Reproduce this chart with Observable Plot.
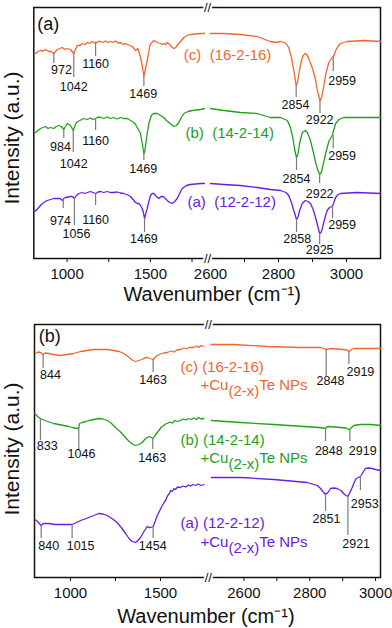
<!DOCTYPE html>
<html><head><meta charset="utf-8">
<script src="https://cdn.jsdelivr.net/npm/d3@7"></script>
<script src="https://cdn.jsdelivr.net/npm/@observablehq/plot@0.6"></script>
<style>
body{margin:0;background:#fff;}
#chart{width:392px;}
#chart svg{display:block;}
</style></head><body><div id="chart"></div>
<script>
const FONT = "Liberation Sans, Arial, Helvetica, sans-serif";
const COLORS = {c: "#f4652c", b: "#22a01e", a: "#6420e6"};

// ---------- Panel (a): neat surfactants ----------
const aDomain = [800, 1825, 2600, 3100];
const aTicks = [1000, 1250, 1500, 1750, 2600, 2700, 2800, 2900, 3000];
const aTickLabels = [1000, 1500, 2600, 2800, 3000];

const a_c = [[810,205],[825,207],[840,208],[855,207.5],[870,209],[890,207],[905,207],[920,205],[941,209],[955,210],[971,211],[986,209],[1001,210],[1020,209],[1030,207],[1040,205],[1050,209],[1061,213],[1076,213],[1091,215],[1106,214],[1121,216],[1136,215],[1151,217],[1171,215],[1186,217],[1201,217],[1216,216],[1231,217.5],[1246,216],[1261,217],[1276,216],[1291,217.5],[1306,215.5],[1321,216],[1336,214],[1350,215],[1361,214],[1376,213],[1391,212],[1401,210],[1411,208],[1418,209],[1425,210],[1433,206],[1441,201],[1451,193],[1461,182],[1471,190],[1481,198],[1490,206],[1497,213],[1509,216],[1521,218],[1541,216],[1561,215],[1571,214],[1581,215],[1591,214],[1601,216],[1611,215],[1621,213],[1631,211],[1641,210],[1651,211],[1661,213],[1671,215],[1686,218],[1701,221],[1721,223],[1741,224],[1771,224.5],[1801,225],[1825,225],
  [2600,225],[2639,225],[2688,224],[2737,222],[2756,219.5],[2776,217],[2791,216],[2806,217],[2821,215.5],[2830,211],[2838,201],[2845,188],[2852,173],[2856,176],[2860,185],[2866,196],[2872,203],[2879,205],[2885,203],[2892,197],[2900,190],[2908,180],[2915,167],[2922,158],[2927,161],[2933,172],[2940,186],[2948,196],[2958,201],[2963,203],[2968,208],[2975,212],[2982,215],[3002,217],[3051,218],[3100,217]];

const a_b = [[810,126],[825,128],[840,130],[855,131],[870,132],[885,130],[900,131],[920,130],[935,132],[950,133],[965,132],[980,129],[990,132],[1001,135],[1020,133],[1030,130],[1037,128],[1045,132],[1056,136],[1076,138],[1100,140],[1120,139],[1140,140.5],[1155,139],[1171,140],[1186,141.5],[1201,141],[1220,140],[1240,141.5],[1260,140],[1280,141],[1300,139.5],[1320,141],[1340,140],[1361,140],[1381,138],[1401,136],[1411,134],[1421,131],[1431,128],[1441,125],[1453,113],[1461,105],[1467,108],[1475,118],[1481,125],[1491,135],[1505,143],[1520,145],[1541,145],[1561,143],[1581,141],[1596,138],[1611,136],[1626,134],[1641,132],[1656,133],[1671,136],[1686,141],[1701,145],[1726,147],[1751,148],[1801,149],[1825,150],
  [2600,150],[2639,148],[2688,146],[2737,145],[2756,143],[2776,141],[2806,141],[2826,138],[2835,131],[2842,121],[2848,108],[2853,101],[2857,104],[2862,115],[2870,126],[2879,128],[2885,126],[2893,119],[2902,107],[2910,95],[2916,88],[2921,84],[2926,86],[2932,95],[2940,107],[2948,117],[2958,123],[2963,129],[2968,135],[2978,139],[2992,141],[3051,141],[3100,141]];

const a_a = [[806,47],[818,49],[830,51],[845,54],[860,56],[880,58],[900,59],[920,60],[941,60],[958,60],[972,58],[980,60],[990,61],[1005,61.5],[1020,62],[1032,62],[1044,60],[1056,63],[1070,65],[1090,66],[1105,65],[1121,66],[1140,67],[1155,66],[1171,65],[1186,66.5],[1201,67],[1220,66],[1240,67],[1260,66],[1280,66],[1300,66.5],[1320,65.5],[1340,65],[1355,64],[1370,63],[1381,62],[1391,60],[1401,58],[1411,56],[1421,55],[1431,55],[1441,53],[1451,50],[1458,46],[1465,40],[1471,44],[1481,50],[1491,57],[1501,63],[1511,65],[1521,65],[1536,62],[1551,60],[1564,62],[1577,62],[1590,60],[1601,58],[1616,56],[1631,55],[1646,57],[1661,60],[1676,65],[1691,70],[1716,73],[1741,74],[1801,75],[1825,75],
  [2600,75],[2639,74],[2688,73],[2737,71],[2776,69],[2806,68],[2822,66],[2830,63],[2838,56],[2845,48],[2853,39],[2858,42],[2862,48],[2870,55],[2879,58],[2887,57],[2894,55],[2902,49],[2909,41],[2915,33],[2921,25],[2925,26],[2929,30],[2936,40],[2943,48],[2950,51],[2958,52],[2963,56],[2968,61],[2975,64],[2982,65],[3031,66],[3100,65]];

const aPeaks = [
  {s:"c", w:920, y1:205, y2:195, t:"972", tw:966, tv:189},
  {s:"c", w:1040, y1:205, y2:181, t:"1042", tw:1040, tv:172},
  {s:"c", w:1171, y1:216, y2:202, t:"1160", tw:1171, tv:195},
  {s:"c", w:1461, y1:182, y2:172, t:"1469", tw:1457, tv:165},
  {s:"c", w:2852, y1:173, y2:161, t:"2854", tw:2850, tv:154},
  {s:"c", w:2922, y1:158, y2:145, t:"2922", tw:2921, tv:139},
  {s:"c", w:2961, y1:201, y2:187, t:"2959", tw:2987, tv:178},
  {s:"b", w:980, y1:129, y2:120, t:"984", tw:960, tv:112},
  {s:"b", w:1037, y1:128, y2:106, t:"1042", tw:1040, tv:95},
  {s:"b", w:1171, y1:140, y2:128, t:"1160", tw:1171, tv:118},
  {s:"b", w:1461, y1:105, y2:98, t:"1469", tw:1457, tv:90},
  {s:"b", w:2853, y1:101, y2:88, t:"2854", tw:2853, tv:80},
  {s:"b", w:2921, y1:84, y2:75, t:"2922", tw:2921, tv:65},
  {s:"b", w:2961, y1:123, y2:110, t:"2959", tw:2987, tv:103},
  {s:"a", w:977, y1:59, y2:50, t:"974", tw:960, tv:38},
  {s:"a", w:1044, y1:60, y2:33, t:"1056", tw:1056, tv:25},
  {s:"a", w:1171, y1:65, y2:53, t:"1160", tw:1171, tv:39},
  {s:"a", w:1465, y1:40, y2:26, t:"1469", tw:1461, tv:20},
  {s:"a", w:2853, y1:39, y2:26, t:"2858", tw:2855, tv:20},
  {s:"a", w:2921, y1:25, y2:14, t:"2925", tw:2921, tv:9},
  {s:"a", w:2959, y1:52, y2:40, t:"2959", tw:2987, tv:34}
];
const aLabels = [
  {s:"c", w:1701, v:203, t:"(c)\u00a0\u00a0(16-2-16)"},
  {s:"b", w:1711, v:125, t:"(b)\u00a0\u00a0(14-2-14)"},
  {s:"a", w:1723, v:56, t:"(a)\u00a0\u00a0(12-2-12)"}
];

// ---------- Panel (b): with Cu(2-x)Te NPs ----------
const bDomain = [800, 1750, 2500, 3015];
const bTicks = [1000, 1250, 1500, 2600, 2700, 2800, 2900, 3000];
const bTickLabels = [1000, 1500, 2600, 2800, 3000];

const b_c = [[806,224],[820,225.5],[833,225],[840,224],[848,223],[860,224.5],[879,224],[905,223],[944,222],[980,223],[1018,224],[1055,226],[1093,227],[1130,228],[1167,228],[1205,228],[1241,227],[1270,226],[1296,224],[1315,221.5],[1333,219],[1347,217],[1361,216],[1380,217],[1398,218],[1412,219.5],[1426,220],[1442,219],[1451,218.5],[1459,218],[1470,220],[1482,222],[1500,223.5],[1518,224.5],[1537,225],[1560,226.5],[1575,225.5],[1590,227.5],[1611,228],[1630,229.5],[1645,228.5],[1660,230],[1685,230],[1700,231.5],[1712,230],[1725,232],[1741,231],
  [2500,233],[2569,233],[2671,231],[2772,230],[2833,230],[2843,229],[2850,228],[2856,228.5],[2863,229],[2903,228],[2912,227.5],[2919,226],[2926,228],[2934,229],[2975,229],[3015,229]];

const b_b = [[802,164],[817,161],[833,159],[850,157.5],[871,156],[890,155],[907,154],[935,153],[963,152],[990,151],[1009,150],[1025,149.5],[1041,149],[1046,150],[1050,154],[1065,155],[1085,156],[1102,157],[1130,158],[1157,159],[1180,158.5],[1204,157],[1228,154],[1250,150],[1275,146],[1296,142],[1315,138],[1333,135],[1347,133],[1361,132],[1380,133],[1398,135],[1412,138],[1426,140],[1439,141],[1450,140],[1459,139],[1470,142],[1482,145],[1495,148],[1505,150.5],[1518,152],[1528,153.5],[1537,154],[1550,155.5],[1565,154.5],[1580,157],[1595,156],[1611,157],[1625,158.5],[1640,157.5],[1655,159],[1670,158],[1685,159.5],[1700,158],[1712,160],[1725,158.5],[1741,159],
  [2501,157],[2590,155],[2691,153],[2782,151],[2828,150],[2840,149.5],[2848,149],[2852,150.5],[2858,151],[2893,150],[2910,149.5],[2919,148],[2922,148.5],[2934,152],[2954,153],[2985,153],[3015,152]];

const b_a = [[802,58],[810,57],[817,56],[826,54],[837,52],[846,53.5],[856,54],[879,54],[917,53],[972,53],[1009,53],[1033,55],[1056,57],[1080,58.5],[1102,60],[1130,62],[1157,64],[1180,63.5],[1204,62],[1230,59],[1259,55],[1282,50],[1306,44],[1325,39],[1343,36],[1361,35],[1375,37],[1389,40],[1408,46],[1426,51],[1436,50],[1444,50],[1452,50.5],[1459,51],[1470,56],[1482,62],[1496,67],[1510,72],[1520,75],[1528,77],[1540,82],[1550,84],[1556,87],[1565,86],[1575,89],[1583,88],[1595,90.5],[1611,90],[1625,91.5],[1640,90.5],[1655,92.5],[1667,91.5],[1680,93],[1695,92],[1710,93.5],[1725,92],[1741,93],
  [2501,100],[2590,100],[2691,98],[2792,95],[2823,92],[2833,89],[2840,86],[2848,83],[2855,85],[2863,89],[2873,89.5],[2883,89],[2895,87],[2903,84],[2910,82],[2916,81],[2922,85],[2929,90],[2935,95],[2941,99],[2948,100],[2954,101],[2960,104],[2969,109],[2980,109.5],[2989,109],[3000,108],[3015,107]];

const bPeaks = [
  {s:"c", w:848, y1:223, y2:209, t:"844", tw:889, tv:203},
  {s:"c", w:1459, y1:218, y2:205, t:"1463", tw:1459, tv:198},
  {s:"c", w:2850, y1:228, y2:201, t:"2848", tw:2863, tv:197},
  {s:"c", w:2919, y1:226, y2:213, t:"2919", tw:2954, tv:206},
  {s:"b", w:833, y1:159, y2:137, t:"833", tw:871, tv:132},
  {s:"b", w:1046, y1:150, y2:127, t:"1046", tw:1061, tv:124},
  {s:"b", w:1457, y1:139, y2:128, t:"1463", tw:1454, tv:120},
  {s:"b", w:2848, y1:149, y2:136, t:"2848", tw:2858, tv:127},
  {s:"b", w:2922, y1:148, y2:136, t:"2919", tw:2961, tv:127},
  {s:"a", w:837, y1:52, y2:39, t:"840", tw:879, tv:32},
  {s:"a", w:1009, y1:53, y2:39, t:"1015", tw:1056, tv:32},
  {s:"a", w:1459, y1:51, y2:39, t:"1454", tw:1457, tv:32},
  {s:"a", w:2848, y1:83, y2:66, t:"2851", tw:2851, tv:59},
  {s:"a", w:2916, y1:81, y2:42, t:"2921", tw:2941, tv:34},
  {s:"a", w:2954, y1:101, y2:87, t:"2953", tw:2967, tv:74}
];
const bLabels = [
  {s:"c", w:1611, v:210, t:"(c) (16-2-16)"},
  {s:"c", w:1722, v:192, t:"+Cu(2-x)Te NPs"},
  {s:"b", w:1611, v:137, t:"(b) (14-2-14)"},
  {s:"b", w:1722, v:119, t:"+Cu(2-x)Te NPs"},
  {s:"a", w:1611, v:54, t:"(a) (12-2-12)"},
  {s:"a", w:1722, v:35, t:"+Cu(2-x)Te NPs"}
];

const X_LABEL = "Wavenumber (cm\u207B\u00B9)";
const Y_LABEL = "Intensity (a.u.)";

function panel(o) {
  const gapMid = (o.domain[1] + o.domain[2]) / 2;
  const seg = d => d[0] < gapMid ? "L" : "R";
  const labelSet = new Set(o.tickLabels);
  const series = [["c", o.c], ["b", o.b], ["a", o.a]];
  const marks = [
    Plot.frame({stroke: "#111", strokeWidth: 1.5}),
    ...series.map(([k, data]) => Plot.line(data, {x: d => d[0], y: d => d[1], z: seg, stroke: COLORS[k], strokeWidth: 1.3})),
    Plot.ruleX(o.peaks, {x: "w", y1: "y1", y2: "y2", stroke: "#7a7a7a", strokeWidth: 1.2}),
    Plot.text(o.peaks, {x: "tw", y: "tv", text: "t", fontSize: 12.5, fill: "#111", lineAnchor: "middle"}),
    ...series.map(([k]) => Plot.text(o.labels.filter(d => d.s === k), {x: "w", y: "v", text: "t", fill: COLORS[k], textAnchor: "start", lineAnchor: "middle", fontSize: 15})),
    Plot.axisX({ticks: o.ticks, tickFormat: d => labelSet.has(d) ? String(d) : "", tickSize: 4, tickPadding: 6, label: null, stroke: "#111", fill: "#111"}),
    Plot.text([gapMid], {x: d => d, text: () => "//", frameAnchor: "top", textAnchor: "middle", lineAnchor: "middle", fontSize: 13, fill: "#111", stroke: "white", strokeWidth: 4}),
    Plot.text([gapMid], {x: d => d, text: () => "//", frameAnchor: "bottom", textAnchor: "middle", lineAnchor: "middle", fontSize: 13, fill: "#111", stroke: "white", strokeWidth: 4}),
    Plot.text([o.panelLabel], {frameAnchor: "top-left", textAnchor: "start", lineAnchor: "middle", dx: o.plx, dy: o.ply, fontSize: 18, fill: "#111"}),
    Plot.text([Y_LABEL], {frameAnchor: "left", rotate: -90, textAnchor: "middle", lineAnchor: "middle", dx: -22, dy: o.yly, fontSize: 21, fill: "#111"}),
    Plot.text([X_LABEL], {frameAnchor: "bottom", textAnchor: "middle", lineAnchor: "middle", dx: o.xlx, dy: o.xly, fontSize: 20, fill: "#111"})
  ];
  const svg = Plot.plot({
    width: 392,
    height: o.height,
    marginTop: o.mt,
    marginBottom: o.mb,
    marginLeft: o.range[0],
    marginRight: 392 - o.range[3],
    style: {fontFamily: FONT, fontSize: "15px", background: "white", color: "#111"},
    x: {type: "linear", domain: o.domain, range: o.range, label: null},
    y: {domain: o.ydomain, axis: null},
    marks
  });
  // subscript for Cu(2-x)
  for (const t of svg.querySelectorAll("text")) {
    if (t.textContent === "+Cu(2-x)Te NPs") {
      t.textContent = "";
      const ns = "http://www.w3.org/2000/svg";
      const parts = [["+Cu", null], ["(2-x)", "0.38em"], ["Te NPs", "-0.38em"]];
      for (const [s, dy] of parts) {
        const sp = document.createElementNS(ns, "tspan");
        if (dy) sp.setAttribute("dy", dy);
        sp.textContent = s;
        t.appendChild(sp);
      }
    }
  }
  return svg;
}

const chart = document.getElementById("chart");
chart.appendChild(panel({
  domain: aDomain, range: [33.3, 204, 210, 380], ticks: aTicks, tickLabels: aTickLabels,
  height: 310, mt: 7, mb: 52, ydomain: [0, 251],
  c: a_c, b: a_b, a: a_a, peaks: aPeaks, labels: aLabels,
  panelLabel: "(a)", plx: 3.4, ply: 16.3, yly: 5, xlx: 5, xly: 35.6
}));
chart.appendChild(panel({
  domain: bDomain, range: [34, 205, 210.5, 380], ticks: bTicks, tickLabels: bTickLabels,
  height: 318, mt: 14, mb: 51, ydomain: [0, 253],
  c: b_c, b: b_b, a: b_a, peaks: bPeaks, labels: bLabels,
  panelLabel: "(b)", plx: 4.3, ply: 11.5, yly: -2, xlx: -1.6, xly: 38.6
}));
</script></body></html>
